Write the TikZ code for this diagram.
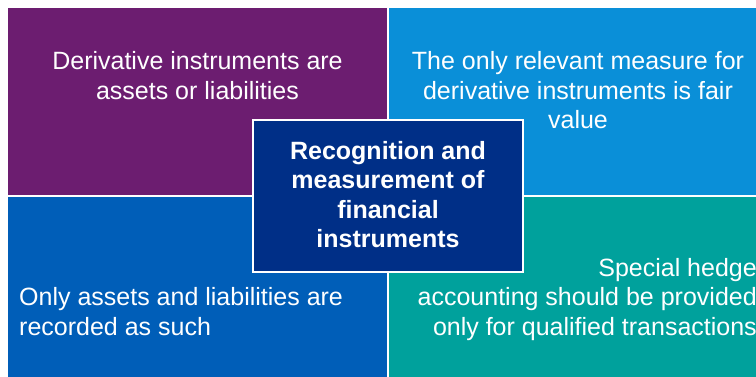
\documentclass[tikz,border=0pt]{standalone}
\usepackage{fontspec}
\setmainfont{Liberation Sans}
\definecolor{cPurple}{HTML}{6C1D70}
\definecolor{cSky}{HTML}{0A8FD8}
\definecolor{cBlue}{HTML}{005EB8}
\definecolor{cTeal}{HTML}{00A19C}
\definecolor{cNavy}{HTML}{002F87}
\tikzset{
  paneltext/.style={text=white, inner sep=0pt, font=\fontsize{25}{29.5}\selectfont},
  hub/.style={fill=cNavy, draw=white, line width=2pt, minimum width=270pt, minimum height=152pt, inner sep=0pt},
  hubtext/.style={text=white, inner sep=0pt, align=center, font=\fontsize{25}{29.5}\selectfont\bfseries}
}
\begin{document}
\begin{tikzpicture}[x=1pt,y=-1pt]
\useasboundingbox (0,0) rectangle (756,377);
\clip (0,0) rectangle (756,377);
\fill[cPurple] (8,8) rectangle (387,195);
\fill[cSky] (389,8) rectangle (770,195);
\fill[cBlue] (8,197) rectangle (387,390);
\fill[cTeal] (389,197) rectangle (770,390);
\node[paneltext, align=center, anchor=base] (tl) at (197.5,99.5) {Derivative instruments are\\assets or liabilities};
\node[paneltext, align=center, anchor=base] (tr) at (578,129) {The only relevant measure for\\derivative instruments is fair\\value};
\node[paneltext, align=left, anchor=base west] (bl) at (19,335) {Only assets and liabilities are\\recorded as such};
\node[paneltext, align=right, anchor=base east] (br) at (757,335) {Special hedge\\accounting should be provided\\only for qualified transactions};
\node[hub] (hub) at (388,196) {};
\node[hubtext, anchor=base] (hubt) at (388,247.5) {Recognition and\\measurement of\\financial\\instruments};
\end{tikzpicture}
\end{document}
